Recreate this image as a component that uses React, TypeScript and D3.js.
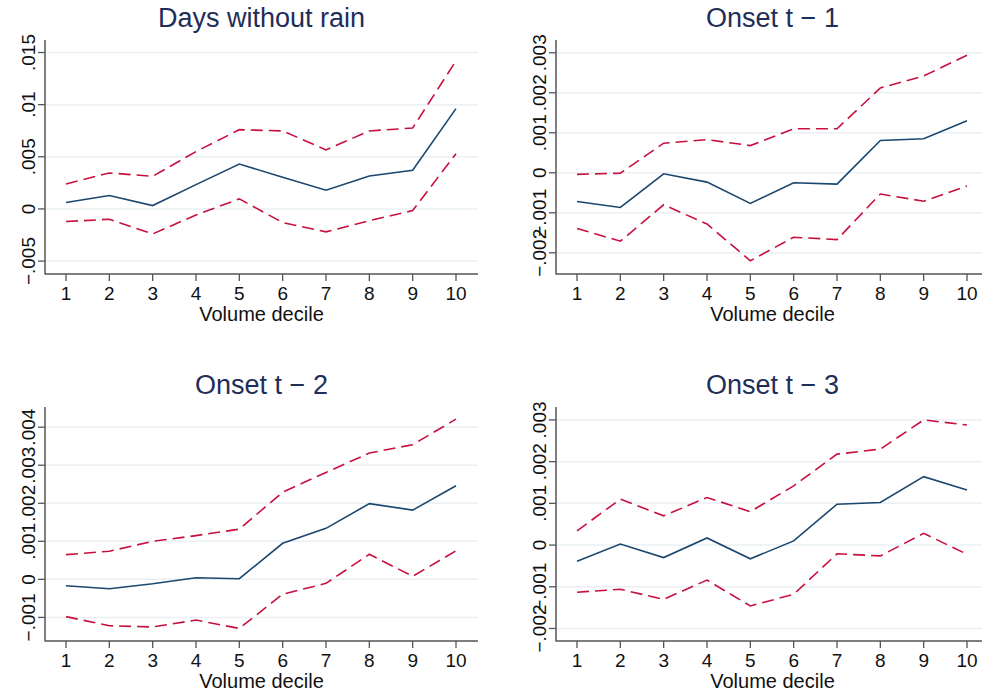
import * as d3 from 'd3';
import { useEffect, useRef } from 'react';

const deciles = [1, 2, 3, 4, 5, 6, 7, 8, 9, 10];

// Days without rain
const daysEst = [0.00061, 0.00128, 0.00032, 0.00233, 0.00431, 0.00304, 0.00179, 0.00316, 0.00371, 0.00962];
const daysHi = [0.0024, 0.00345, 0.00313, 0.0055, 0.0076, 0.00748, 0.00566, 0.00748, 0.00776, 0.0142];
const daysLo = [-0.00121, -0.00099, -0.0024, -0.00058, 0.00096, -0.00131, -0.0022, -0.00112, -0.00016, 0.0053];
const daysTicks = [-0.005, 0, 0.005, 0.01, 0.015];
const daysTickLabels = ['−.005', '0', '.005', '.01', '.015'];

// Onset t - 1
const on1Est = [-0.000717, -0.000867, -0.000025, -0.000233, -0.000767, -0.00025, -0.000283, 0.000808, 0.00085, 0.0013];
const on1Hi = [-0.00004, -0.00001, 0.00074, 0.00083, 0.00068, 0.0011, 0.0011, 0.00212, 0.00242, 0.00294];
const on1Lo = [-0.00139, -0.00171, -0.0008, -0.00128, -0.0022, -0.00161, -0.00167, -0.00053, -0.00071, -0.00033];
const on1Ticks = [-0.002, -0.001, 0, 0.001, 0.002, 0.003];
const on1TickLabels = ['−.002', '−.001', '0', '.001', '.002', '.003'];

// Onset t - 2
const on2Est = [-0.000167, -0.000246, -0.000114, 0.000044, 0.000018, 0.000947, 0.00134, 0.00199, 0.00182, 0.00246];
const on2Hi = [0.00065, 0.00074, 0.001, 0.00115, 0.00132, 0.00229, 0.00281, 0.00332, 0.00354, 0.00421];
const on2Lo = [-0.00098, -0.00122, -0.00125, -0.00107, -0.00129, -0.00039, -0.000105, 0.00066, 0.00008, 0.00075];
const on2Ticks = [-0.001, 0, 0.001, 0.002, 0.003, 0.004];
const on2TickLabels = ['−.001', '0', '.001', '.002', '.003', '.004'];

// Onset t - 3
const on3Est = [-0.00039, 0.000024, -0.0003, 0.00017, -0.00033, 0.0001, 0.00098, 0.00102, 0.00164, 0.00132];
const on3Hi = [0.00034, 0.0011, 0.0007, 0.00114, 0.0008, 0.00142, 0.00218, 0.0023, 0.003, 0.00288];
const on3Lo = [-0.00113, -0.00106, -0.0013, -0.00084, -0.00146, -0.00118, -0.00021, -0.00026, 0.00028, -0.00022];
const on3Ticks = [-0.002, -0.001, 0, 0.001, 0.002, 0.003];
const on3TickLabels = ['−.002', '−.001', '0', '.001', '.002', '.003'];

const panels = [
  { title: 'Days without rain', est: daysEst, hi: daysHi, lo: daysLo, ticks: daysTicks, labels: daysTickLabels, domain: [-0.00624, 0.0162], col: 0, row: 0 },
  { title: 'Onset t − 1', est: on1Est, hi: on1Hi, lo: on1Lo, ticks: on1Ticks, labels: on1TickLabels, domain: [-0.00253, 0.00332], col: 1, row: 0 },
  { title: 'Onset t − 2', est: on2Est, hi: on2Hi, lo: on2Lo, ticks: on2Ticks, labels: on2TickLabels, domain: [-0.00162, 0.00453], col: 0, row: 1 },
  { title: 'Onset t − 3', est: on3Est, hi: on3Hi, lo: on3Lo, ticks: on3Ticks, labels: on3TickLabels, domain: [-0.0023, 0.00331], col: 1, row: 1 },
];

const App = () => {
  const ref = useRef<SVGSVGElement>(null);

  useEffect(() => {
    const width = 982;
    const height = 697;
    const svg = d3.select(ref.current);
    svg.selectAll('*').remove();
    svg.attr('width', width).attr('height', height);
    svg.append('rect').attr('width', width).attr('height', height).attr('fill', '#fff');

    const font = '"Liberation Sans", Arial, Helvetica, sans-serif';
    const colLeft = [45, 556];
    const rowTop = [40, 407];
    const plotW = 433;
    const plotH = 234;

    panels.forEach(p => {
      const left = colLeft[p.col];
      const top = rowTop[p.row];
      const bottom = top + plotH;
      const g = svg.append('g');

      const x = d3.scaleLinear().domain([1, 10]).range([left + 21, left + 411]);
      const y = d3.scaleLinear().domain(p.domain).range([bottom, top]);

      // grid
      g.selectAll('.grid')
        .data(p.ticks)
        .enter()
        .append('line')
        .attr('x1', left)
        .attr('x2', left + plotW)
        .attr('y1', d => y(d))
        .attr('y2', d => y(d))
        .attr('stroke', '#eaf0f3')
        .attr('stroke-width', 1.5);

      // lines
      const line = d3.line<number>()
        .x((_, i) => x(deciles[i]))
        .y(d => y(d));

      [p.hi, p.lo].forEach(s => {
        g.append('path')
          .datum(s)
          .attr('fill', 'none')
          .attr('stroke', '#c8103e')
          .attr('stroke-width', 1.6)
          .attr('stroke-dasharray', '12,6')
          .attr('d', line);
      });
      g.append('path')
        .datum(p.est)
        .attr('fill', 'none')
        .attr('stroke', '#1a476f')
        .attr('stroke-width', 1.6)
        .attr('d', line);

      // axes
      g.append('line')
        .attr('x1', left).attr('x2', left)
        .attr('y1', top).attr('y2', bottom + 0.5)
        .attr('stroke', '#555').attr('stroke-width', 1.5);
      g.append('line')
        .attr('x1', left).attr('x2', left + plotW)
        .attr('y1', bottom).attr('y2', bottom)
        .attr('stroke', '#555').attr('stroke-width', 1.5);

      p.ticks.forEach((t, i) => {
        g.append('line')
          .attr('x1', left - 7).attr('x2', left)
          .attr('y1', y(t)).attr('y2', y(t))
          .attr('stroke', '#555').attr('stroke-width', 1.3);
        g.append('text')
          .attr('transform', `translate(${left - 10},${y(t)}) rotate(-90)`)
          .attr('text-anchor', 'middle')
          .attr('font-family', font)
          .attr('font-size', 19)
          .attr('fill', '#111')
          .text(p.labels[i]);
      });

      deciles.forEach(d => {
        g.append('line')
          .attr('x1', x(d)).attr('x2', x(d))
          .attr('y1', bottom).attr('y2', bottom + 7)
          .attr('stroke', '#555').attr('stroke-width', 1.3);
        g.append('text')
          .attr('x', x(d))
          .attr('y', bottom + 26)
          .attr('text-anchor', 'middle')
          .attr('font-family', font)
          .attr('font-size', 19)
          .attr('fill', '#111')
          .text(d);
      });

      g.append('text')
        .attr('x', left + plotW / 2)
        .attr('y', bottom + 47)
        .attr('text-anchor', 'middle')
        .attr('font-family', font)
        .attr('font-size', 20)
        .attr('fill', '#111')
        .text('Volume decile');

      g.append('text')
        .attr('x', left + plotW / 2)
        .attr('y', top - 13)
        .attr('text-anchor', 'middle')
        .attr('font-family', font)
        .attr('font-size', 27)
        .attr('fill', '#1e2e58')
        .text(p.title);
    });
  }, []);

  return (
    <svg ref={ref} style={{ position: 'absolute', left: 0, top: 0, display: 'block' }}></svg>
  );
};

export default App;
